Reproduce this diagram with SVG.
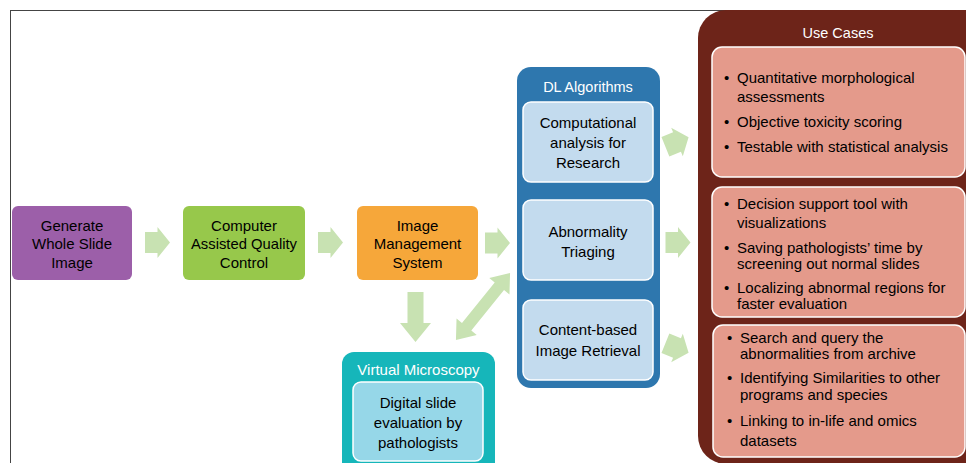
<svg xmlns="http://www.w3.org/2000/svg" width="966" height="463" viewBox="0 0 966 463">
<defs>
<style>
text{font-family:"Liberation Sans",Arial,sans-serif;}
.t{font-size:15px;fill:#000;text-anchor:middle;}
.h{font-size:14.5px;fill:#fff;text-anchor:middle;}
.b{font-size:15px;fill:#000;}
.arrow{fill:#C8E2B2;}
.inner{stroke:#fff;stroke-width:1.5;}
</style>
<path id="ha" d="M-12.5,-10.5 H0 V-15.5 L12.5,0 L0,15.5 V10.5 H-12.5 Z"/>
</defs>
<rect x="10.5" y="10.5" width="1000" height="500" fill="#fff" stroke="#444" stroke-width="1"/>

<g id="connectors" class="arrow">
<use href="#ha" transform="translate(157.5,242.5)"/>
<use href="#ha" transform="translate(330.5,242.5)"/>
<use href="#ha" transform="translate(497.5,243)"/>
<use href="#ha" transform="translate(677,142) rotate(-22)"/>
<use href="#ha" transform="translate(678,242.5)"/>
<use href="#ha" transform="translate(677,348) rotate(22)"/>
<path d="M-8,-25 H8 V6 H15.5 L0,25 L-15.5,6 H-8 Z" transform="translate(415.5,317)"/>
<path d="M-43,0 L-26,-13 V-6 H26 V-13 L43,0 L26,13 V6 H-26 V13 Z" transform="translate(483,306.5) rotate(-51)"/>
</g>

<g id="generate">
<rect x="12" y="206" width="120" height="74" rx="6" fill="#9C5FA9"/>
<text class="t" x="72" y="230.5">Generate</text>
<text class="t" x="72" y="249">Whole Slide</text>
<text class="t" x="72" y="267.5">Image</text>
</g>

<g id="qc">
<rect x="183" y="206" width="122" height="74" rx="6" fill="#97C84B"/>
<text class="t" x="244" y="230.5">Computer</text>
<text class="t" x="244" y="249" textLength="106" lengthAdjust="spacingAndGlyphs">Assisted Quality</text>
<text class="t" x="244" y="267.5">Control</text>
</g>

<g id="ims">
<rect x="357" y="206" width="121" height="74" rx="6" fill="#F6A73A"/>
<text class="t" x="417.5" y="230.5">Image</text>
<text class="t" x="417.5" y="249">Management</text>
<text class="t" x="417.5" y="267.5">System</text>
</g>

<g id="dl">
<rect x="517" y="67" width="143" height="321" rx="14" fill="#2E77AE"/>
<text class="h" x="588" y="92">DL Algorithms</text>
<g id="dl-research">
<rect class="inner" x="523" y="102" width="130" height="80" rx="8" fill="#C3DBEE"/>
<text class="t" x="588" y="128">Computational</text>
<text class="t" x="588" y="148">analysis for</text>
<text class="t" x="588" y="168">Research</text>
</g>
<g id="dl-triage">
<rect class="inner" x="523" y="200" width="130" height="80" rx="8" fill="#C3DBEE"/>
<text class="t" x="588" y="237">Abnormality</text>
<text class="t" x="588" y="257">Triaging</text>
</g>
<g id="dl-retrieval">
<rect class="inner" x="523" y="300" width="130" height="80" rx="8" fill="#C3DBEE"/>
<text class="t" x="588" y="335">Content-based</text>
<text class="t" x="588" y="356">Image Retrieval</text>
</g>
</g>

<g id="vm">
<rect x="342" y="352" width="153" height="130" rx="12" fill="#16B6BA"/>
<text class="h" x="418.5" y="375" style="font-size:15px">Virtual Microscopy</text>
<rect class="inner" x="353" y="382" width="130" height="79" rx="8" fill="#96D7E8"/>
<text class="t" x="418" y="408">Digital slide</text>
<text class="t" x="418" y="428">evaluation by</text>
<text class="t" x="418" y="448">pathologists</text>
</g>

<g id="usecases">
<rect x="698" y="10" width="300" height="454" rx="28" fill="#6D2419"/>
<text class="h" x="838" y="38">Use Cases</text>
<g id="uc-research">
<rect class="inner" x="712" y="47" width="253" height="130" rx="10" fill="#E49A8B"/>
<text class="b" x="724" y="83">•</text><text class="b" x="737" y="83">Quantitative morphological</text>
<text class="b" x="737" y="102">assessments</text>
<text class="b" x="724" y="127">•</text><text class="b" x="737" y="127">Objective toxicity scoring</text>
<text class="b" x="724" y="152">•</text><text class="b" x="737" y="152">Testable with statistical analysis</text>
</g>
<g id="uc-triage">
<rect class="inner" x="712" y="187" width="253" height="130" rx="10" fill="#E49A8B"/>
<text class="b" x="724" y="209">•</text><text class="b" x="737" y="209">Decision support tool with</text>
<text class="b" x="737" y="228">visualizations</text>
<text class="b" x="724" y="253">•</text><text class="b" x="737" y="253">Saving pathologists’ time by</text>
<text class="b" x="737" y="269">screening out normal slides</text>
<text class="b" x="724" y="293">•</text><text class="b" x="737" y="293">Localizing abnormal regions for</text>
<text class="b" x="737" y="309">faster evaluation</text>
</g>
<g id="uc-retrieval">
<rect class="inner" x="713" y="325" width="252" height="132" rx="10" fill="#E49A8B"/>
<text class="b" x="727" y="343">•</text><text class="b" x="740" y="343">Search and query the</text>
<text class="b" x="740" y="359">abnormalities from archive</text>
<text class="b" x="727" y="383">•</text><text class="b" x="740" y="383">Identifying Similarities to other</text>
<text class="b" x="740" y="400">programs and species</text>
<text class="b" x="727" y="426">•</text><text class="b" x="740" y="426">Linking to in-life and omics</text>
<text class="b" x="740" y="446">datasets</text>
</g>
</g>
</svg>
